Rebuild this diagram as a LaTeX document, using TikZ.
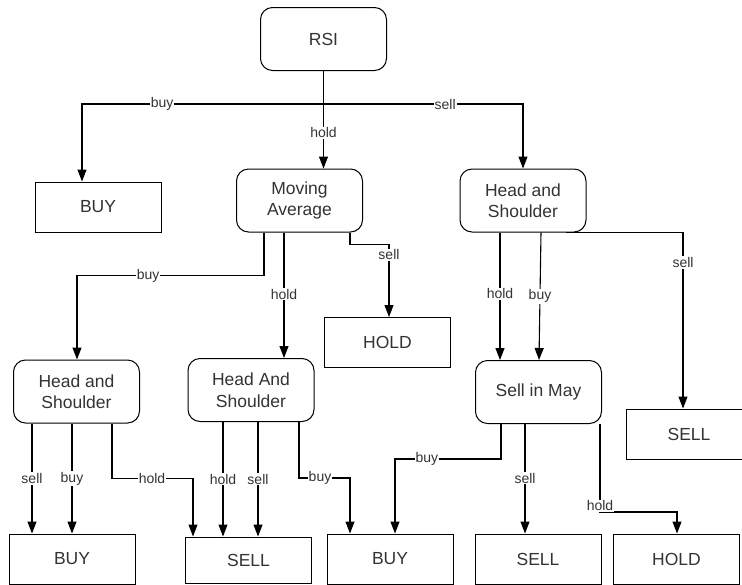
\documentclass[tikz,border=0pt]{standalone}
\usepackage{fontspec}
\setmainfont{Liberation Sans}
\usetikzlibrary{arrows.meta}
\begin{document}
\begin{tikzpicture}[x=1pt,y=-1pt,
  every node/.style={text=black!80},
  rbox/.style={draw, line width=1pt, rounded corners=12pt, minimum width=126pt,
    minimum height=63pt, align=center, inner sep=2pt,
    font=\fontsize{17.5}{21.5}\selectfont},
  sbox/.style={draw, line width=1pt, minimum width=126pt, minimum height=50pt,
    inner sep=2pt, font=\fontsize{17.5}{20}\selectfont},
  arr/.style={draw, line width=1.1pt, -{Triangle[length=12pt,width=9pt]}},
  lab/.style={fill=white, inner sep=1pt, font=\fontsize{14}{15}\selectfont}]
\useasboundingbox (0,0) rectangle (742,584);
\clip (0,0) rectangle (742,584);

% decision nodes
\node[rbox] (rsi)  at (323.5,39)   {RSI};
\node[rbox] (ma)   at (299.5,200.5) {Moving\\Average};
\node[rbox] (hs1)  at (523,200.5)  {Head and\\Shoulder};
\node[rbox] (hsl)  at (76.5,391.5) {Head and\\Shoulder};
\node[rbox] (has)  at (251,390)    {Head And\\Shoulder};
\node[rbox] (sim)  at (538.5,392)  {Sell in May};

% outcome nodes
\node[sbox] (buy1)  at (98,207)    {BUY};
\node[sbox] (hold1) at (387.5,342.5) {HOLD};
\node[sbox] (sellr) at (689,434)   {SELL};
\node[sbox] (buya)  at (72,559)    {BUY};
\node[sbox, minimum height=46pt] (sella) at (248.5,560) {SELL};
\node[sbox] (buyb)  at (390,559)   {BUY};
\node[sbox] (sellb) at (538,559)   {SELL};
\node[sbox] (holdb) at (676.5,559) {HOLD};

% RSI
\draw[arr] (rsi.south) -- ++(0,33) -| node[lab,pos=0.334]{buy} ([xshift=-16pt]buy1.north);
\draw[arr] (rsi.south) -- (rsi.south |- ma.north) node[lab,pos=0.635]{hold};
\draw[arr] (rsi.south) -- ++(0,33) -| node[lab,pos=0.305]{sell} (hs1.north);

% Moving Average
\draw[arr] ([xshift=-35.5pt]ma.south) -- ++(0,43) -| node[lab,pos=0.31]{buy} ([xshift=0.5pt]hsl.north);
\draw[arr] ([xshift=-15.5pt]ma.south) -- ([xshift=-15.5pt]ma.south |- has.north) node[lab,pos=0.49]{hold};
\draw[arr] ([xshift=50.5pt]ma.south) -- ++(0,12) -| node[lab,pos=0.57]{sell} ([xshift=1.5pt]hold1.north);

% Head and Shoulder (right)
\draw[arr] ([xshift=-23pt]hs1.south) -- ([xshift=-23pt]hs1.south |- sim.north) node[lab,pos=0.48]{hold};
\draw[arr] ([xshift=18pt]hs1.south) -- ([xshift=0.5pt]sim.north) node[lab,pos=0.5]{buy};
\draw[arr] ([xshift=43pt]hs1.south) -| node[lab,pos=0.585]{sell} ([xshift=-6pt]sellr.north);

% Head and Shoulder (left)
\draw[arr] ([xshift=-44.5pt]hsl.south) -- ([xshift=-44.5pt]hsl.south |- buya.north) node[lab,pos=0.5]{sell};
\draw[arr] ([xshift=-4.5pt]hsl.south) -- ([xshift=-4.5pt]hsl.south |- buya.north) node[lab,pos=0.5]{buy};
\draw[arr] ([xshift=35.5pt]hsl.south) -- ++(0,55) -| node[lab,pos=0.247]{hold} ([xshift=-55.5pt]sella.north);

% Head And Shoulder (middle)
\draw[arr] ([xshift=-28pt]has.south) -- ([xshift=-28pt]has.south |- sella.north) node[lab,pos=0.5]{hold};
\draw[arr] ([xshift=7pt]has.south) -- ([xshift=7pt]has.south |- sella.north) node[lab,pos=0.5]{sell};
\draw[arr] ([xshift=48pt]has.south) -- ++(0,56) -| node[lab,pos=0.206]{buy} ([xshift=-40pt]buyb.north);

% Sell in May
\draw[arr] ([xshift=-37.5pt]sim.south) -- ++(0,35) -| node[lab,pos=0.35]{buy} ([xshift=5pt]buyb.north);
\draw[arr] ([xshift=-13.5pt]sim.south) -- ([xshift=-13.5pt]sim.south |- sellb.north) node[lab,pos=0.495]{sell};
\draw[arr] ([xshift=61.5pt]sim.south) -- ++(0,88) node[lab,pos=0.93]{hold} -| ([xshift=0.5pt]holdb.north);
\end{tikzpicture}
\end{document}
